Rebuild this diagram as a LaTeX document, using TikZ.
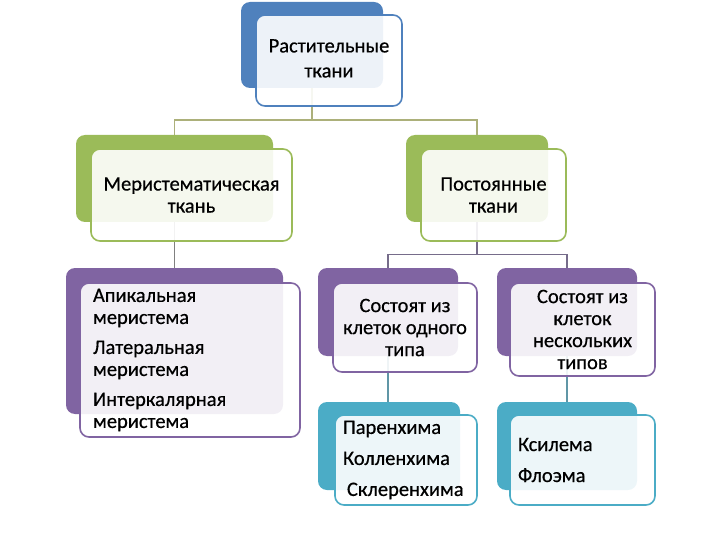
\documentclass[tikz,border=0pt]{standalone}
\usepackage{fontspec}
\setmainfont{Carlito}[FakeBold=0.5]
\usetikzlibrary{positioning,backgrounds,calc}
\definecolor{tissueblue}{RGB}{79,129,189}
\definecolor{tissuegreen}{RGB}{155,187,89}
\definecolor{tissuepurple}{RGB}{128,100,162}
\definecolor{tissueteal}{RGB}{75,172,198}
\definecolor{lineolive}{RGB}{172,176,122}
\definecolor{linegray}{RGB}{128,128,128}
\definecolor{linepurple}{RGB}{118,108,138}
\definecolor{lineteal}{RGB}{96,150,166}

\begin{document}
\begin{tikzpicture}[
    x=1pt, y=-1pt,
    font=\fontsize{20.5}{22}\selectfont,
    card/.style={draw=#1, line width=1.6pt, rounded corners=9pt, fill=white, fill opacity=0.9, text opacity=1, align=center, inner sep=0pt},
    backcard/.style={fill=#1, rounded corners=9pt, inner sep=0pt},
    link/.style={line width=1.4pt, draw=#1}
]
\useasboundingbox (0,0) rectangle (720,540);

% Back plates and connectors
\begin{scope}[on background layer]
    \node[backcard=tissueblue, minimum width=142pt, minimum height=86pt] (topb) at (312,45) {};
    \node[backcard=tissuegreen, minimum width=197pt, minimum height=87pt] (merb) at (174.5,178.5) {};
    \node[backcard=tissuegreen, minimum width=142pt, minimum height=87pt] (permb) at (477,178.5) {};
    \node[backcard=tissuepurple, minimum width=217pt, minimum height=146pt] (apicb) at (174.5,341) {};
    \node[backcard=tissuepurple, minimum width=140pt, minimum height=88pt] (oneb) at (388,312) {};
    \node[backcard=tissuepurple, minimum width=140pt, minimum height=88pt] (manyb) at (567,312) {};
    \node[backcard=tissueteal, minimum width=142pt, minimum height=88pt] (parenb) at (389,446) {};
    \node[backcard=tissueteal, minimum width=140pt, minimum height=88pt] (xylb) at (567,446) {};

    \draw[link=lineolive] (topb.south) -- ++(0,32) -| (merb.north);
    \draw[link=lineolive] (topb.south) -- ++(0,32) -| (permb.north);
    \draw[link=linegray] (merb.south) -- (merb.south |- apicb.north);
    \draw[link=linepurple] (permb.south) -- ++(0,32) -| (oneb.north);
    \draw[link=linepurple] (permb.south) -- ++(0,32) -| (manyb.north);
    \draw[link=lineteal] (oneb.south) -- (oneb.south |- parenb.north);
    \draw[link=lineteal] (manyb.south) -- (manyb.south |- xylb.north);
\end{scope}

% Front cards
\node[card=tissueblue, minimum width=146pt, minimum height=91pt] (top) at (329,60.5) {\raisebox{7pt}{\begin{tabular}{@{}c@{}}Растительные\\[3pt]ткани\end{tabular}}};
\node[card=tissuegreen, minimum width=201pt, minimum height=92pt] (mer) at (191.5,195) {Меристематическая\\ткань};
\node[card=tissuegreen, minimum width=145pt, minimum height=92pt] (perm) at (493.5,195) {Постоянные\\ткани};
\node[card=tissuepurple, minimum width=220pt, minimum height=154pt, text width=194pt, align=left] (apic) at (190,360)
    {Апикальная\\меристема\\[8pt]Латеральная\\меристема\\[8pt]Интеркалярная\\меристема};
\node[card=tissuepurple, minimum width=144pt, minimum height=89pt] (one) at (405,327.5) {Состоят из\\клеток одного\\типа};
\node[card=tissuepurple, minimum width=145pt, minimum height=93pt] (many) at (582.5,329.5) {Состоят из\\клеток\\нескольких\\типов};
\node[card=tissueteal, minimum width=142pt, minimum height=90pt, text width=126pt, align=left] (paren) at (406,460)
    {Паренхима\\[9pt]Колленхима\\[9pt]\hspace*{4pt}Склеренхима};
\node[card=tissueteal, minimum width=145pt, minimum height=90pt, text width=129pt, align=left] (xyl) at (582.5,460)
    {Ксилема\\[9pt]Флоэма};

\end{tikzpicture}
\end{document}
